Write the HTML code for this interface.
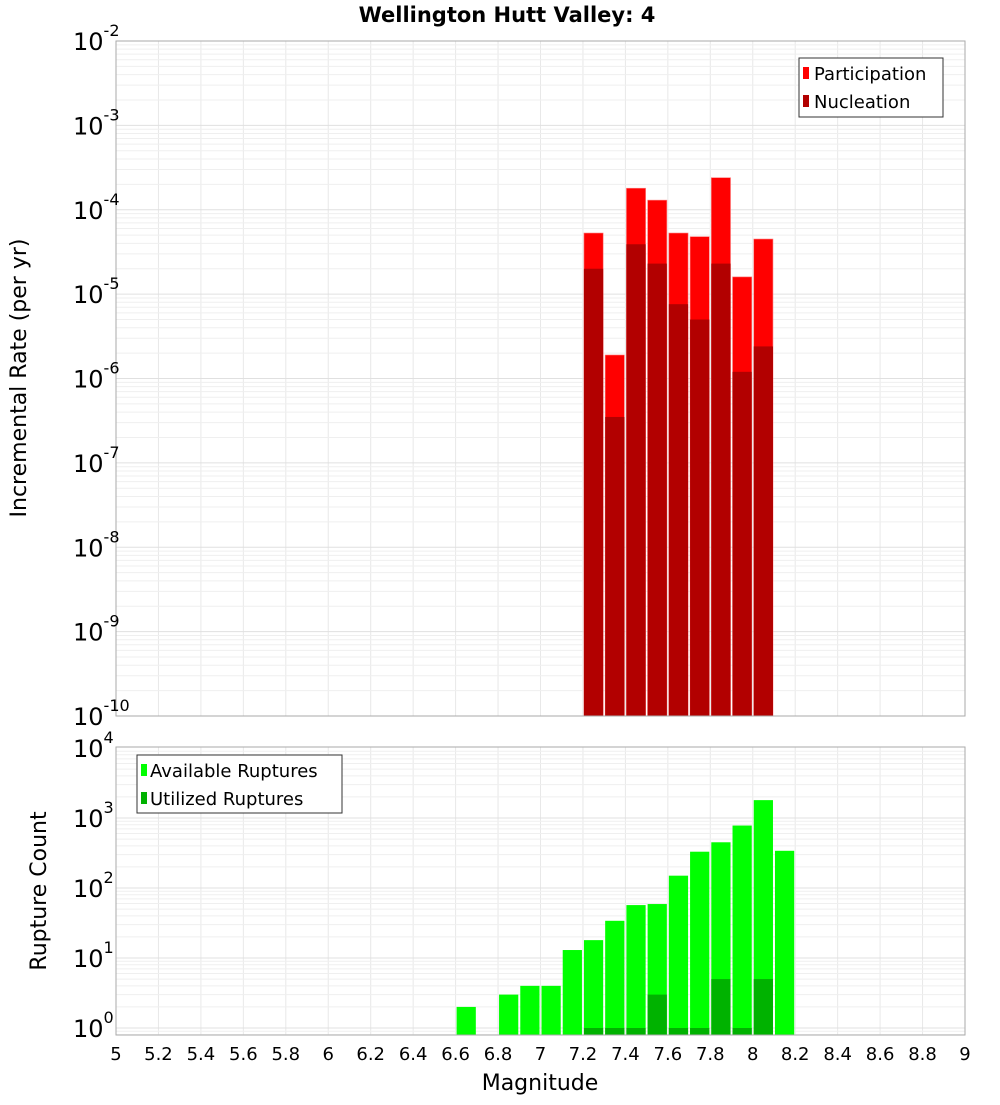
<!DOCTYPE html>
<html><head><meta charset="utf-8"><style>
body{margin:0;background:#fff;font-family:"Liberation Sans","DejaVu Sans",sans-serif}
svg text{font-family:"DejaVu Sans","Liberation Sans",sans-serif}
</style></head><body>
<svg id="c" width="1000" height="1100" xmlns="http://www.w3.org/2000/svg"></svg>
<script>
const topMags=[7.25,7.35,7.45,7.55,7.65,7.75,7.85,7.95,8.05];
const participation=[5.3e-5,1.9e-6,1.8e-4,1.3e-4,5.3e-5,4.8e-5,2.4e-4,1.6e-5,4.5e-5];
const nucleation=[2.0e-5,3.5e-7,3.9e-5,2.3e-5,7.6e-6,5.0e-6,2.3e-5,1.2e-6,2.4e-6];
const botMags=[6.65,6.75,6.85,6.95,7.05,7.15,7.25,7.35,7.45,7.55,7.65,7.75,7.85,7.95,8.05,8.15];
const available=[2,0,3,4,4,13,18,34,57,59,150,330,450,780,1800,340];
const utilized=[0,0,0,0,0,0,1,1,1,3,1,1,5,1,5,0];
const xTicks=[5,5.2,5.4,5.6,5.8,6,6.2,6.4,6.6,6.8,7,7.2,7.4,7.6,7.8,8,8.2,8.4,8.6,8.8,9];
const topExp=[-2,-3,-4,-5,-6,-7,-8,-9,-10];
const botExp=[4,3,2,1,0];

const NS="http://www.w3.org/2000/svg",svg=document.getElementById('c');
function el(t,a,p){const e=document.createElementNS(NS,t);for(const k in a)e.setAttribute(k,a[k]);(p||svg).appendChild(e);return e;}
const X0=116,X1=965;
const x=m=>X0+(m-5)/4*(X1-X0);
const T0=41,T1=716;
const yTop=v=>T0+(-2-Math.log10(v))/8*(T1-T0);
const B0=747,B1=1035;
const yBot=v=>748+(4-Math.log10(v))*70;

function grid(y0,y1,ymin,ymax,yf,g){
  for(const t of xTicks){const l=el('line',{x1:x(t),x2:x(t),y1:y0,y2:y1,stroke:'#e8e8e8'},g);}
  for(let e=Math.floor(ymin);e<ymax;e++)for(let k=1;k<10;k++){const v=k*Math.pow(10,e);const yy=yf(v);if(yy<y0||yy>y1)continue;
    const l=el('line',{x1:X0,x2:X1,y1:yy,y2:yy,stroke:k==1?'#e0e0e0':'#efefef'},g);}
}
// title
const ti=el('text',{x:507,y:22,'text-anchor':'middle','font-size':21,'font-weight':'bold'});ti.textContent='Wellington Hutt Valley: 4';


// top panel
const gt=el('g',{});
grid(T0,T1,-10,-2,yTop,gt);
topMags.forEach((m,i)=>{
  const r=el('rect',{x:x(m-0.05)+1,y:yTop(participation[i]),width:x(m+0.05)-x(m-0.05)-2,height:T1-yTop(participation[i]),fill:'#ff0000',stroke:'#ff8080','stroke-width':0.6},gt);
  
  const n=el('rect',{x:x(m-0.05)+1,y:yTop(nucleation[i]),width:x(m+0.05)-x(m-0.05)-2,height:T1-yTop(nucleation[i]),fill:'#b20000'},gt);
  
});
el('rect',{x:X0,y:T0,width:X1-X0,height:T1-T0,fill:'none',stroke:'#aaa'},gt);
topExp.forEach(e=>{const yy=yTop(Math.pow(10,e));const t=el('text',{x:73,y:yy+9,'font-size':24},gt);t.textContent='10';
  const s=el('tspan',{dy:-14,'font-size':16},t);s.textContent=String(e);});
const yt=el('text',{transform:'translate(26,378) rotate(-90)','text-anchor':'middle','font-size':22});yt.textContent='Incremental Rate (per yr)';

// legend top
const lg=el('g',{});
el('rect',{x:799,y:58,width:144,height:59,fill:'#fff',stroke:'#333'},lg);
el('rect',{x:803,y:67,width:6,height:12,fill:'#ff0000'},lg);
el('rect',{x:803,y:95,width:6,height:12,fill:'#b20000'},lg);
let t1=el('text',{x:814,y:80,'font-size':18},lg);t1.textContent='Participation';
let t2=el('text',{x:814,y:108,'font-size':18},lg);t2.textContent='Nucleation';

// bottom panel
const gb=el('g',{});
grid(B0,B1,-1,4,yBot,gb);
botMags.forEach((m,i)=>{
  if(available[i]>0){const r=el('rect',{x:x(m-0.05)+1,y:yBot(available[i]),width:x(m+0.05)-x(m-0.05)-2,height:B1-yBot(available[i]),fill:'#00ff00'},gb);
  }
  if(utilized[i]>0){const n=el('rect',{x:x(m-0.05)+1,y:yBot(utilized[i]),width:x(m+0.05)-x(m-0.05)-2,height:B1-yBot(utilized[i]),fill:'#00b200'},gb);
  }
});
el('rect',{x:X0,y:B0,width:X1-X0,height:B1-B0,fill:'none',stroke:'#aaa'},gb);
botExp.forEach(e=>{const yy=yBot(Math.pow(10,e));const t=el('text',{x:73,y:yy+9,'font-size':24},gb);t.textContent='10';
  const s=el('tspan',{dy:-14,'font-size':16},t);s.textContent=String(e);});
const yb=el('text',{transform:'translate(46,891) rotate(-90)','text-anchor':'middle','font-size':22});yb.textContent='Rupture Count';

const lg2=el('g',{});
el('rect',{x:137,y:755,width:205,height:58,fill:'#fff',stroke:'#333'},lg2);
el('rect',{x:141,y:764,width:6,height:12,fill:'#00ff00'},lg2);
el('rect',{x:141,y:792,width:6,height:12,fill:'#00b200'},lg2);
let t3=el('text',{x:150,y:777,'font-size':18},lg2);t3.textContent='Available Ruptures';
let t4=el('text',{x:150,y:805,'font-size':18},lg2);t4.textContent='Utilized Ruptures';
xTicks.forEach(v=>{const t=el('text',{x:x(v),y:1060,'text-anchor':'middle','font-size':18});t.textContent=String(v);
  });
const xt=el('text',{x:540,y:1090,'text-anchor':'middle','font-size':22});xt.textContent='Magnitude';

</script>
</body></html>
